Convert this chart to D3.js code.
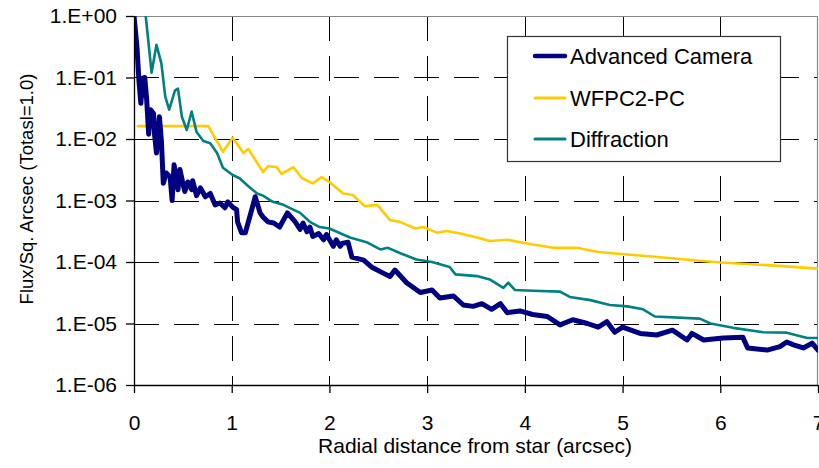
<!DOCTYPE html>
<html>
<head>
<meta charset="utf-8">
<script src="https://cdn.jsdelivr.net/npm/d3@7"></script>
<style>
  body { margin: 0; background: #fff; }
  svg { display: block; font-family: "Liberation Sans", Arial, sans-serif; }
</style>
</head>
<body>
<div id="chart"></div>
<script>
// Series names and tick values
const seriesNames = ["Advanced Camera", "WFPC2-PC", "Diffraction"];
const xTicks = [0, 1, 2, 3, 4, 5, 6, 7];
const yTicks = [1e-6, 1e-5, 1e-4, 1e-3, 1e-2, 1e-1, 1];

// Advanced Camera (radial distance in arcsec, flux per sq. arcsec)
const acsX = [0.0, 0.03, 0.05, 0.07, 0.09, 0.11, 0.13, 0.15, 0.17, 0.20, 0.21, 0.23, 0.26, 0.28, 0.30,
  0.33, 0.37, 0.39, 0.41, 0.44, 0.45, 0.47, 0.50, 0.52, 0.55, 0.59, 0.60, 0.64, 0.68, 0.73, 0.78,
  0.83, 0.88, 0.93, 0.96, 1.01, 1.05, 1.06, 1.10, 1.14, 1.17, 1.21, 1.24, 1.26, 1.29, 1.32, 1.37,
  1.43, 1.49, 1.57, 1.65, 1.70, 1.73, 1.77, 1.80, 1.83, 1.89, 1.94, 1.97, 2.04, 2.07, 2.11, 2.13,
  2.19, 2.23, 2.35, 2.43, 2.55, 2.62,
  2.67, 2.79, 2.93, 3.05, 3.13, 3.27, 3.37, 3.47, 3.56, 3.66, 3.75, 3.82, 3.95, 4.08, 4.23, 4.36,
  4.49, 4.64, 4.75, 4.84, 4.92, 5.0, 5.18, 5.35, 5.51, 5.66, 5.71, 5.83, 6.03, 6.23, 6.28, 6.48,
  6.61, 6.68, 6.75, 6.85, 6.94, 7.0];
const acsY = [1.0, 3.2e-1, 9.1e-2, 3.8e-2, 9.8e-2, 1.0e-1, 4.3e-2, 1.2e-2, 3.0e-2, 2.6e-2, 1.2e-2, 5.9e-3, 2.3e-2, 9.5e-3, 1.9e-3,
  2.8e-3, 2.4e-3, 1.0e-3, 3.8e-3, 2.1e-3, 1.5e-3, 3.2e-3, 1.9e-3, 1.4e-3, 2.0e-3, 1.5e-3, 2.1e-3, 1.2e-3, 1.6e-3, 1.15e-3, 1.3e-3,
  8.5e-4, 9.1e-4, 7.6e-4, 9.5e-4, 7.8e-4, 7.1e-4, 4.5e-4, 3.0e-4, 3.0e-4, 4.5e-4, 7.6e-4, 1.15e-3, 9.1e-4, 6.3e-4, 5.4e-4, 4.5e-4,
  4.3e-4, 3.7e-4, 6.3e-4, 4.5e-4, 3.4e-4, 4.3e-4, 3.1e-4, 3.7e-4, 2.6e-4, 2.9e-4, 2.3e-4, 2.8e-4, 1.8e-4, 2.3e-4, 1.8e-4, 2.0e-4,
  2.1e-4, 1.2e-4, 1.07e-4, 8.3e-5, 6.6e-5, 5.8e-5,
  7.4e-5, 4.6e-5, 3.2e-5, 3.5e-5, 2.6e-5, 2.8e-5, 2.0e-5, 1.9e-5, 2.1e-5, 1.7e-5, 2.1e-5, 1.5e-5, 1.6e-5, 1.4e-5, 1.3e-5, 9.5e-6,
  1.15e-5, 1.0e-5, 8.7e-6, 1.07e-5, 7.2e-6, 8.7e-6, 6.9e-6, 6.5e-6, 7.8e-6, 5.4e-6, 6.9e-6, 5.4e-6, 5.8e-6, 6.0e-6, 4.0e-6, 3.7e-6,
  4.2e-6, 5.0e-6, 4.5e-6, 4.0e-6, 4.8e-6, 3.7e-6];

// WFPC2-PC
const wfpcX = [0.04, 0.76, 0.91, 1.01, 1.12, 1.17, 1.32, 1.37, 1.46, 1.51, 1.63, 1.72, 1.83, 1.92, 2.0,
  2.14, 2.24, 2.36, 2.49, 2.62, 2.72, 2.88, 2.96, 3.10, 3.20, 3.34, 3.51, 3.64, 3.82, 4.02, 4.29,
  4.53, 4.75, 5.11, 6.0, 6.48, 7.0];
const wfpcY = [1.62e-2, 1.62e-2, 6.2e-3, 1.05e-2, 5.9e-3, 6.9e-3, 2.9e-3, 3.6e-3, 3.5e-3, 2.7e-3, 3.5e-3, 2.3e-3, 1.9e-3, 2.4e-3, 2.0e-3,
  1.3e-3, 1.23e-3, 8.1e-4, 8.5e-4, 4.8e-4, 4.5e-4, 3.5e-4, 3.7e-4, 3.0e-4, 3.2e-4, 2.9e-4, 2.5e-4, 2.2e-4, 2.3e-4, 2.0e-4, 1.7e-4,
  1.7e-4, 1.45e-4, 1.3e-4, 9.8e-5, 8.9e-5, 7.8e-5];

// Diffraction
const diffX = [0.12, 0.18, 0.23, 0.28, 0.32, 0.36, 0.42, 0.45, 0.49, 0.54, 0.59, 0.64, 0.71, 0.78, 0.85,
  0.91, 1.01, 1.08, 1.17, 1.26, 1.32, 1.42, 1.53, 1.63, 1.70, 1.80, 1.90, 2.0, 2.21, 2.38, 2.52,
  2.60, 2.72, 2.89, 3.05, 3.23, 3.29, 3.51, 3.64, 3.78, 3.83, 3.90, 4.08, 4.36, 4.46, 4.67, 4.87,
  5.05, 5.21, 5.33, 5.79, 5.90, 6.13, 6.44, 6.68, 6.89, 7.0];
const diffY = [1.0, 1.2e-1, 3.4e-1, 1.7e-1, 4.9e-2, 3.0e-2, 6.2e-2, 6.6e-2, 2.3e-2, 1.4e-2, 2.8e-2, 1.3e-2, 9.3e-3, 8.5e-3, 5.9e-3,
  3.4e-3, 2.6e-3, 2.3e-3, 1.7e-3, 1.3e-3, 1.2e-3, 9.5e-4, 8.5e-4, 7.1e-4, 6.3e-4, 4.5e-4, 3.7e-4, 3.5e-4, 2.5e-4, 2.1e-4, 1.6e-4,
  1.7e-4, 1.4e-4, 1.1e-4, 1.0e-4, 8.3e-5, 6.3e-5, 5.9e-5, 5.2e-5, 3.8e-5, 4.6e-5, 3.5e-5, 3.4e-5, 3.3e-5, 2.7e-5, 2.4e-5, 2.0e-5,
  1.9e-5, 1.7e-5, 1.3e-5, 1.2e-5, 1.0e-5, 8.5e-6, 7.2e-6, 7.1e-6, 5.8e-6, 5.8e-6];

const width = 819, height = 468;
const margin = { top: 16, right: 1, bottom: 83, left: 134 };

const svg = d3.select("#chart").append("svg")
  .attr("width", width)
  .attr("height", height);

const x = d3.scaleLinear().domain([0, 7]).range([margin.left, width - margin.right]);
const y = d3.scaleLog().domain([1e-6, 1]).range([height - margin.bottom, margin.top]);

// Grid lines
const grid = svg.append("g").attr("class", "grid")
  .attr("stroke", "#000").attr("stroke-width", 1).attr("stroke-dasharray", "25,15");

grid.selectAll("line.v")
  .data(xTicks.filter(d => d > 0 && d < 7))
  .enter().append("line")
  .attr("class", "v")
  .attr("x1", d => Math.round(x(d)) + 0.5).attr("x2", d => Math.round(x(d)) + 0.5)
  .attr("y1", y(1)).attr("y2", y(1e-6));

grid.selectAll("line.h")
  .data(yTicks.filter(d => d > 1e-6 && d < 1))
  .enter().append("line")
  .attr("class", "h")
  .attr("x1", x(0)).attr("x2", x(7))
  .attr("y1", d => Math.round(y(d)) + 0.5).attr("y2", d => Math.round(y(d)) + 0.5);

// Top and right frame (gray)
svg.append("path")
  .attr("d", `M${x(0)},${Math.round(y(1)) + 0.5}H${Math.round(x(7)) - 0.5}V${y(1e-6)}`)
  .attr("fill", "none").attr("stroke", "#888").attr("stroke-width", 1.2);

// Series
svg.append("clipPath").attr("id", "plot-clip")
  .append("rect")
  .attr("x", x(0)).attr("y", y(1))
  .attr("width", x(7) - x(0)).attr("height", y(1e-6) - y(1));

const line = d3.line().x(d => x(d[0])).y(d => y(d[1]));

const series = [
  { name: seriesNames[1], data: d3.zip(wfpcX, wfpcY), color: "#ffcc00", w: 2.6 },
  { name: seriesNames[2], data: d3.zip(diffX, diffY), color: "#008080", w: 2.6 },
  { name: seriesNames[0], data: d3.zip(acsX, acsY), color: "#000080", w: 5 }
];

svg.append("g").attr("clip-path", "url(#plot-clip)")
  .selectAll("path")
  .data(series)
  .enter().append("path")
  .attr("d", d => line(d.data))
  .attr("fill", "none")
  .attr("stroke", d => d.color)
  .attr("stroke-width", d => d.w)
  .attr("stroke-linejoin", "round")
  .attr("stroke-linecap", "round");

// Axes
const fmtExp = d => {
  const e = Math.round(Math.log10(d));
  return "1.E" + (e >= 0 ? "+" : "-") + String(Math.abs(e)).padStart(2, "0");
};

const yAxis = svg.append("g")
  .attr("transform", `translate(${x(0)},0)`)
  .call(d3.axisLeft(y).tickValues(yTicks).tickFormat(fmtExp).tickSize(8).tickSizeOuter(0).tickPadding(9));

const xAxis = svg.append("g")
  .attr("transform", `translate(0,${y(1e-6)})`)
  .call(d3.axisBottom(x).tickValues(xTicks).tickFormat(d3.format("d")).tickSize(8).tickSizeOuter(0).tickPadding(22));

[xAxis, yAxis].forEach(a => {
  a.selectAll("path, line").attr("stroke", "#000").attr("stroke-width", 1.3);
  a.selectAll("text").attr("fill", "#000").style("font-size", "21px")
    .style("font-family", "'Liberation Sans', Arial, sans-serif");
});

// Axis titles
svg.append("text")
  .attr("x", (x(0) + x(7)) / 2 - 1)
  .attr("y", 453)
  .attr("text-anchor", "middle")
  .style("font-size", "21px")
  .text("Radial distance from star (arcsec)");

svg.append("text")
  .attr("transform", "translate(33,189) rotate(-90)")
  .attr("text-anchor", "middle")
  .style("font-size", "18.5px")
  .text("Flux/Sq. Arcsec (Totasl=1.0)");

// Legend
const legend = svg.append("g").attr("transform", "translate(507,36)");
legend.append("rect")
  .attr("x", 0.5).attr("y", 0.5)
  .attr("width", 273).attr("height", 125)
  .attr("fill", "#fff").attr("stroke", "#333").attr("stroke-width", 1.2);

const legendRows = [
  { name: seriesNames[0], color: "#000080", w: 4.5, cy: 20 },
  { name: seriesNames[1], color: "#ffcc00", w: 3, cy: 62 },
  { name: seriesNames[2], color: "#008080", w: 3, cy: 103 }
];

const row = legend.selectAll("g.row")
  .data(legendRows)
  .enter().append("g")
  .attr("class", "row")
  .attr("transform", d => `translate(0,${d.cy})`);

row.append("line")
  .attr("x1", 28).attr("x2", 58)
  .attr("stroke", d => d.color)
  .attr("stroke-width", d => d.w)
  .attr("stroke-linecap", "round");

row.append("text")
  .attr("x", 63)
  .attr("dy", "0.36em")
  .style("font-size", "22px")
  .text(d => d.name);
</script>
</body>
</html>
